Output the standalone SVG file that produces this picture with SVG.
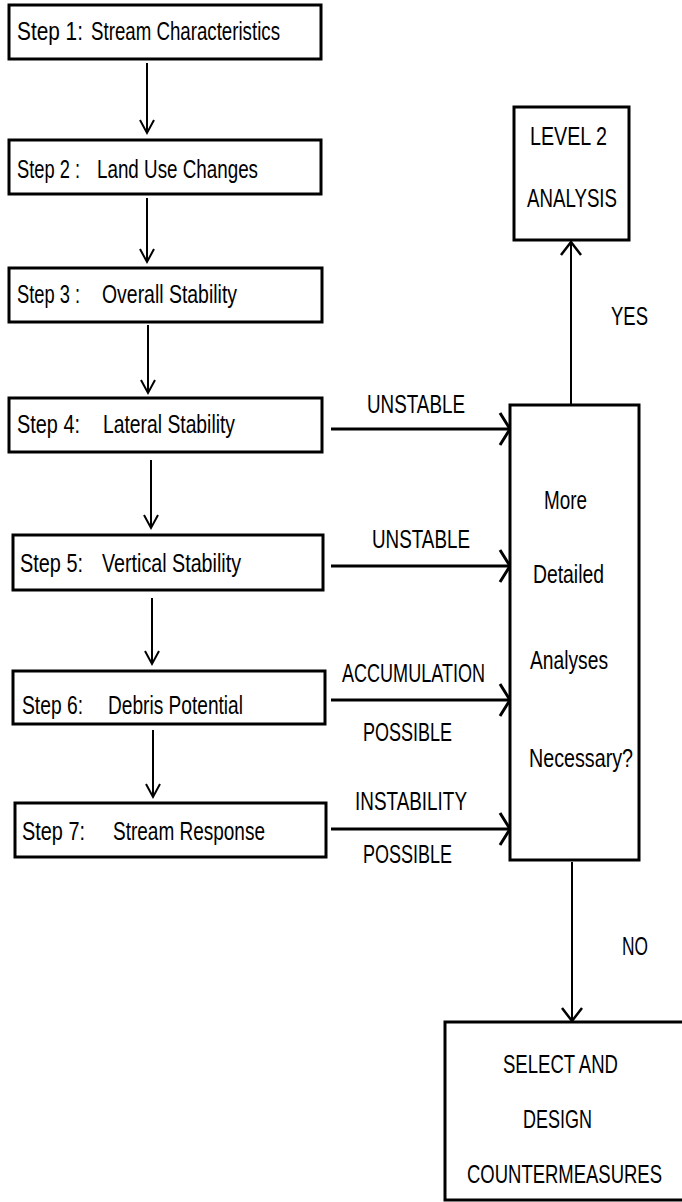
<svg xmlns="http://www.w3.org/2000/svg" width="682" height="1202" viewBox="0 0 682 1202">
<style>
.box{fill:#fff;stroke:#000;stroke-width:3}
.t{font-family:"Liberation Sans",Arial,sans-serif;font-size:25px;fill:#000}
.v{fill:none;stroke:#000;stroke-width:2}
.h{fill:none;stroke:#000;stroke-width:3}
</style>
<defs>
<marker id="chS" markerUnits="userSpaceOnUse" orient="auto" refX="0" refY="0" markerWidth="30" markerHeight="30" overflow="visible">
<path d="M-13,-7 L0,0 L-13,7" fill="none" stroke="#000" stroke-width="2"/>
</marker>
<marker id="chH" markerUnits="userSpaceOnUse" orient="auto" refX="0" refY="0" markerWidth="30" markerHeight="40" overflow="visible">
<path d="M-10,-16 L0,0 L-10,16" fill="none" stroke="#000" stroke-width="3"/>
</marker>
<marker id="chL" markerUnits="userSpaceOnUse" orient="auto" refX="0" refY="0" markerWidth="30" markerHeight="30" overflow="visible">
<path d="M-13,-10 L0,0 L-13,10" fill="none" stroke="#000" stroke-width="2.5"/>
</marker>
</defs>
<rect width="682" height="1202" fill="#fff"/>
<g id="connectors">
<line class="v" x1="147" y1="63" x2="147" y2="133" marker-end="url(#chS)"/>
<line class="v" x1="147" y1="198" x2="147" y2="262" marker-end="url(#chS)"/>
<line class="v" x1="148" y1="325" x2="148" y2="393" marker-end="url(#chS)"/>
<line class="v" x1="151" y1="460" x2="151" y2="528" marker-end="url(#chS)"/>
<line class="v" x1="152" y1="598" x2="152" y2="664" marker-end="url(#chS)"/>
<line class="v" x1="153" y1="730" x2="153" y2="797" marker-end="url(#chS)"/>
<line class="h" x1="331" y1="429" x2="510" y2="429" marker-end="url(#chH)"/>
<line class="h" x1="331" y1="566" x2="510" y2="566" marker-end="url(#chH)"/>
<line class="h" x1="331" y1="700" x2="510" y2="700" marker-end="url(#chH)"/>
<line class="h" x1="331" y1="829" x2="510" y2="829" marker-end="url(#chH)"/>
<line class="v" x1="571" y1="405" x2="571" y2="242" stroke-width="2.5" marker-end="url(#chL)"/>
<line class="v" x1="572" y1="862" x2="572" y2="1021" stroke-width="2.5" marker-end="url(#chL)"/>
<text class="t" x="367" y="413" textLength="98" lengthAdjust="spacingAndGlyphs">UNSTABLE</text>
<text class="t" x="372" y="548" textLength="98" lengthAdjust="spacingAndGlyphs">UNSTABLE</text>
<text class="t" x="342" y="682" textLength="143" lengthAdjust="spacingAndGlyphs">ACCUMULATION</text>
<text class="t" x="363" y="741" textLength="89" lengthAdjust="spacingAndGlyphs">POSSIBLE</text>
<text class="t" x="355" y="810" textLength="112" lengthAdjust="spacingAndGlyphs">INSTABILITY</text>
<text class="t" x="363" y="863" textLength="89" lengthAdjust="spacingAndGlyphs">POSSIBLE</text>
<text class="t" x="611" y="325" textLength="37" lengthAdjust="spacingAndGlyphs">YES</text>
<text class="t" x="622" y="955" textLength="26" lengthAdjust="spacingAndGlyphs">NO</text>
</g>
<g id="step1">
<rect class="box" x="9" y="5" width="312" height="54"/>
<text class="t" x="17" y="40" textLength="66" lengthAdjust="spacingAndGlyphs">Step 1:</text>
<text class="t" x="91" y="40" textLength="189" lengthAdjust="spacingAndGlyphs">Stream Characteristics</text>
</g>
<g id="step2">
<rect class="box" x="9" y="140" width="312" height="54"/>
<text class="t" x="17" y="178" textLength="63" lengthAdjust="spacingAndGlyphs">Step 2 :</text>
<text class="t" x="97" y="178" textLength="161" lengthAdjust="spacingAndGlyphs">Land Use Changes</text>
</g>
<g id="step3">
<rect class="box" x="9" y="268" width="313" height="54"/>
<text class="t" x="17" y="303" textLength="63" lengthAdjust="spacingAndGlyphs">Step 3 :</text>
<text class="t" x="102" y="303" textLength="135" lengthAdjust="spacingAndGlyphs">Overall Stability</text>
</g>
<g id="step4">
<rect class="box" x="9" y="398" width="313" height="54"/>
<text class="t" x="17" y="433" textLength="63" lengthAdjust="spacingAndGlyphs">Step 4:</text>
<text class="t" x="103" y="433" textLength="132" lengthAdjust="spacingAndGlyphs">Lateral Stability</text>
</g>
<g id="step5">
<rect class="box" x="13" y="535" width="310" height="55"/>
<text class="t" x="20" y="572" textLength="63" lengthAdjust="spacingAndGlyphs">Step 5:</text>
<text class="t" x="102" y="572" textLength="139" lengthAdjust="spacingAndGlyphs">Vertical Stability</text>
</g>
<g id="step6">
<rect class="box" x="13" y="671" width="312" height="53"/>
<text class="t" x="22" y="714" textLength="61" lengthAdjust="spacingAndGlyphs">Step 6:</text>
<text class="t" x="108" y="714" textLength="135" lengthAdjust="spacingAndGlyphs">Debris Potential</text>
</g>
<g id="step7">
<rect class="box" x="15" y="803" width="311" height="54"/>
<text class="t" x="22" y="840" textLength="63" lengthAdjust="spacingAndGlyphs">Step 7:</text>
<text class="t" x="113" y="840" textLength="152" lengthAdjust="spacingAndGlyphs">Stream Response</text>
</g>
<g id="level2">
<rect class="box" x="514" y="107" width="115" height="133"/>
<text class="t" x="530" y="145" textLength="77" lengthAdjust="spacingAndGlyphs">LEVEL 2</text>
<text class="t" x="527" y="207" textLength="90" lengthAdjust="spacingAndGlyphs">ANALYSIS</text>
</g>
<g id="decision">
<rect class="box" x="510" y="405" width="129" height="455"/>
<text class="t" x="544" y="509" textLength="43" lengthAdjust="spacingAndGlyphs">More</text>
<text class="t" x="533" y="583" textLength="71" lengthAdjust="spacingAndGlyphs">Detailed</text>
<text class="t" x="530" y="669" textLength="78" lengthAdjust="spacingAndGlyphs">Analyses</text>
<text class="t" x="529" y="767" textLength="104" lengthAdjust="spacingAndGlyphs">Necessary?</text>
</g>
<g id="countermeasures">
<path class="box" d="M682,1022 H445 V1200 H682"/>
<text class="t" x="467" y="1183" textLength="195" lengthAdjust="spacingAndGlyphs">COUNTERMEASURES</text>
<text class="t" x="503" y="1073" textLength="115" lengthAdjust="spacingAndGlyphs">SELECT AND</text>
<text class="t" x="523" y="1128" textLength="69" lengthAdjust="spacingAndGlyphs">DESIGN</text>
</g>
</svg>
